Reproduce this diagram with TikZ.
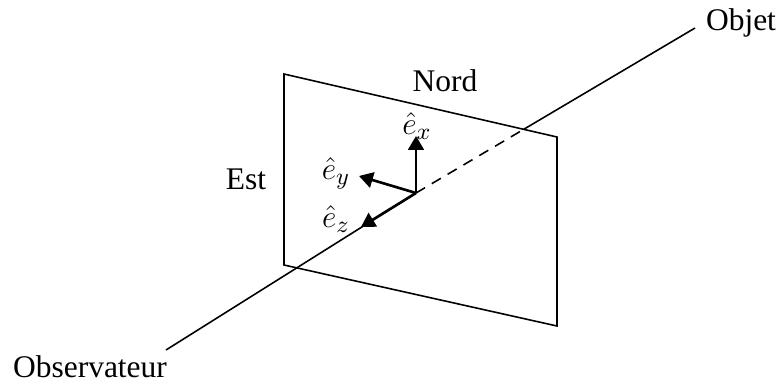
\documentclass[tikz,border=0pt]{standalone}
\usepackage{fontspec}
\setmainfont{Liberation Serif}
\usepackage{amsmath}
\usetikzlibrary{arrows.meta}

\begin{document}
\begin{tikzpicture}[x=0.381pt, y=-0.381pt,
                    every node/.style={inner sep=1pt, font=\fontsize{12}{14}\selectfont},
                    edge/.style={line width=0.6pt},
                    vec/.style={line width=1pt, -{Triangle[length=5.3pt, width=6pt]}},
                    lab/.style={font=\fontsize{13}{15}\selectfont}]
\useasboundingbox (0,0) rectangle (778,381);
\coordinate (tl) at (284,74);
\coordinate (tr) at (557,137);
\coordinate (br) at (557,326);
\coordinate (bl) at (284,265);
\coordinate (O) at (416,193);
\coordinate (obs) at (166,350);
\coordinate (obj) at (695,28);
\coordinate (cross) at (intersection of O--obj and tl--tr);
\coordinate (ex) at (416,136);
\coordinate (ey) at (359,176);
\coordinate (ez) at (361,227);
\draw[edge] (tl) -- (tr) -- (br) -- (bl) -- cycle;
\draw[edge] (obs) -- (O);
\draw[edge, dash pattern=on 4pt off 3pt] (O) -- (cross);
\draw[edge] (cross) -- (obj);
\draw[vec] (O) -- (ex);
\draw[vec] (O) -- (ey);
\draw[vec] (O) -- (ez);
\node (nord) at (445,81) {Nord};
\node (est) at (246,179) {Est};
\node (objet) at (741,23) {Objet};
\node (observ) at (90,367) {Observateur};
\node[lab] (lx) at (417,126) {$\hat{e}_x$};
\node[lab] (ly) at (336,173) {$\hat{e}_y$};
\node[lab] (lz) at (336,219) {$\hat{e}_z$};
\end{tikzpicture}
\end{document}
